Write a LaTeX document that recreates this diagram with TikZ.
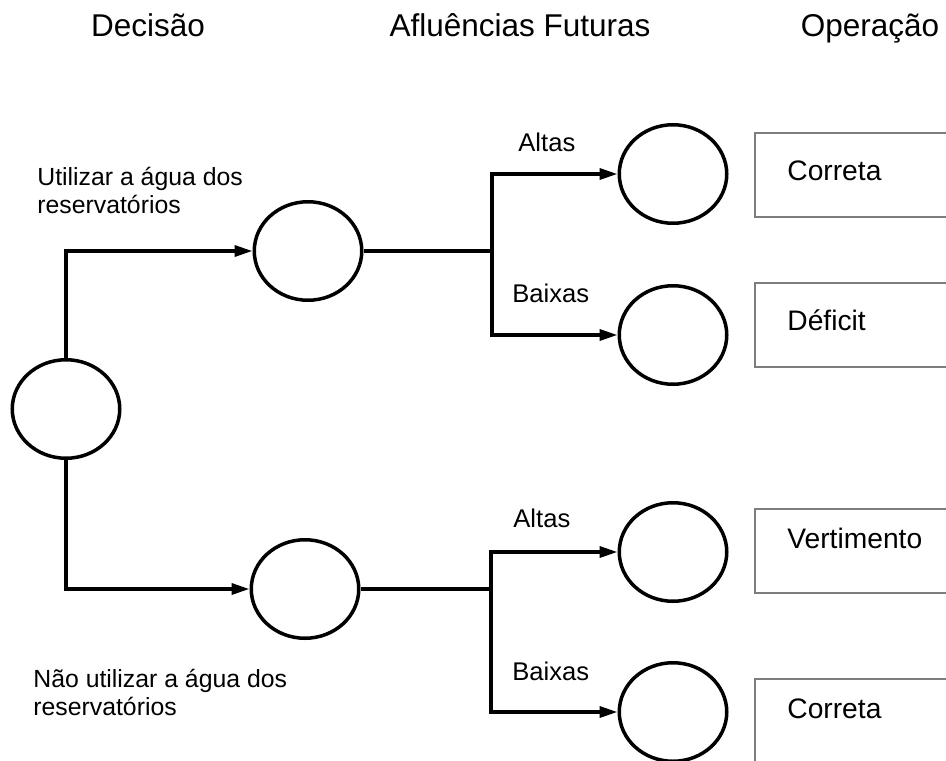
\documentclass[tikz,border=0pt]{standalone}
\usepackage{fontspec}
\setmainfont{Liberation Sans}
\usepackage{tikz}
\usetikzlibrary{positioning, shapes.geometric, arrows.meta}
\tikzstyle{treeCanvas} = [x = .5pt, y = -.5pt]
\definecolor{boxColor}{RGB}{125,125,125}
\tikzstyle{chanceNode} = [draw, ellipse, line width = 1.75pt, minimum width = 53.75pt, minimum height = 49.25pt, inner sep = 0pt]
\tikzstyle{branchLine} = [line width = 1.75pt]
\tikzstyle{branchArrow} = [branchLine, -{Triangle[length = 9pt, width = 5.5pt]}]
\tikzstyle{outcomeBoxStyle} = [draw = boxColor, line width = .75pt, anchor = north west, minimum width = 110pt, minimum height = 42pt, inner sep = 0pt]
\tikzstyle{headerText} = [font = \fontsize{15.75}{18}\selectfont, anchor = base, inner sep = 0pt]
\tikzstyle{decisionText} = [font = \fontsize{12.4}{14}\selectfont, align = left, anchor = north west, inner sep = 0pt]
\tikzstyle{flowText} = [font = \fontsize{12.8}{15}\selectfont, anchor = base west, inner sep = 0pt]
\tikzstyle{outcomeText} = [font = \fontsize{14.1}{17}\selectfont, anchor = base west, inner sep = 0pt]
\newcommand{\outcomeBox}[4]{
  \node [outcomeBoxStyle] (#1) at (754, #2) {};
  \node [outcomeText] (#1Text) at (787, #3) {#4};
}
\begin{document}
\begin{tikzpicture}[treeCanvas]
        \useasboundingbox (0, 0) rectangle (946, 760);
        % column titles
        \node [headerText] (decisionTitle) at (148, 36) {Decisão};
        \node [headerText] (inflowTitle) at (520, 36) {Afluências Futuras};
        \node [headerText] (operationTitle) at (870, 36) {Operação};

        % chance nodes
        \node [chanceNode] (decisionNode) at (66, 409) {};
        \node [chanceNode] (useNode) at (308, 251) {};
        \node [chanceNode] (keepNode) at (305, 589) {};
        \node [chanceNode] (useHigh) at (673, 174) {};
        \node [chanceNode] (useLow) at (673, 335) {};
        \node [chanceNode] (keepHigh) at (673, 552) {};
        \node [chanceNode] (keepLow) at (673, 712) {};

        \node [decisionText] (useLabel) at (37, 167) {Utilizar a água dos\\reservatórios};
        \node [decisionText] (keepLabel) at (33, 669) {Não utilizar a água dos\\reservatórios};

        \draw [branchArrow] (decisionNode.north) |- (useNode.west);
        \draw [branchArrow] (decisionNode.south) |- (keepNode.west);

        \coordinate (useFork) at (useNode.east -| 492,0);
        \coordinate (keepFork) at (keepNode.east -| 491,0);
        \draw [branchLine] (useNode.east) -- (useFork);
        \draw [branchLine] (keepNode.east) -- (keepFork);
        \draw [branchArrow] (useFork) |- (useHigh.west);
        \draw [branchArrow] (useFork) |- (useLow.west);
        \draw [branchArrow] (keepFork) |- (keepHigh.west);
        \draw [branchArrow] (keepFork) |- (keepLow.west);

        \node [flowText] (useHighLabel) at (518, 151) {Altas};
        \node [flowText] (useLowLabel) at (512, 302) {Baixas};
        \node [flowText] (keepHighLabel) at (513, 527) {Altas};
        \node [flowText] (keepLowLabel) at (512, 680) {Baixas};

        % operation outcomes
        \outcomeBox{useHighBox}{132}{180}{Correta}
        \outcomeBox{useLowBox}{282}{330}{Déficit}
        \outcomeBox{keepHighBox}{508}{548}{Vertimento}
        \outcomeBox{keepLowBox}{678}{718}{Correta}
      \end{tikzpicture}
\end{document}
